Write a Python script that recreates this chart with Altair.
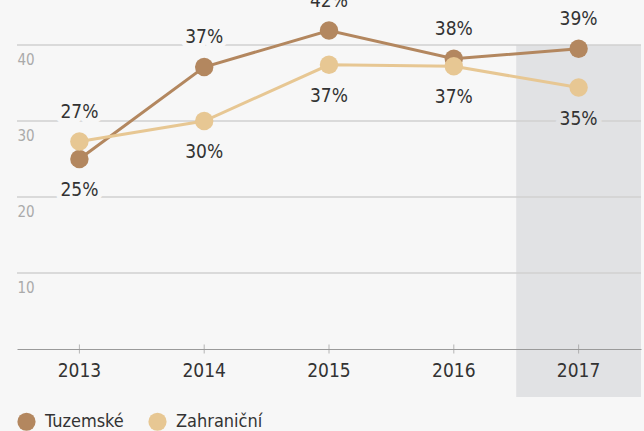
import altair as alt
import pandas as pd

years = [2013, 2014, 2015, 2016, 2017]
tuzemske = [25.0, 37.1, 41.9, 38.2, 39.5]
zahranicni = [27.3, 30.0, 37.4, 37.2, 34.4]
tuzemske_labels = ["25%", "37%", "42%", "38%", "39%"]
zahranicni_labels = ["27%", "30%", "37%", "37%", "35%"]
series_names = ["Tuzemské", "Zahraniční"]
series_colors = ["#b3875f", "#e7c793"]
y_ticks = [10, 20, 30, 40]
highlight_year = 2017

BG = "#f7f7f7"
BAND = "#e1e2e4"
FONT = "'DejaVu Sans Condensed', 'Liberation Sans Narrow', Roboto, sans-serif"

rows = []
for i, yr in enumerate(years):
    t, z = tuzemske[i], zahranicni[i]
    rows.append({"year": yr, "series": series_names[0], "value": t,
                 "label": tuzemske_labels[i], "side": "above" if t >= z else "below"})
    rows.append({"year": yr, "series": series_names[1], "value": z,
                 "label": zahranicni_labels[i], "side": "above" if z > t else "below"})
df = pd.DataFrame(rows)

xenc = alt.X("year:O", scale=alt.Scale(type="band", paddingInner=0, paddingOuter=0),
             axis=alt.Axis(title=None, domain=True, domainColor="#9a9a9a", ticks=False,
                           tickSize=0, labelPadding=12, labelFontSize=19, labelFont=FONT,
                           labelColor="#333333", labelAngle=0, grid=False))
yscale = alt.Scale(domain=[0, 40], nice=False, zero=False)

base = alt.Chart(df)

band = alt.Chart(pd.DataFrame({"year": [highlight_year]})).mark_rect(color=BAND).encode(
    x=xenc, y=alt.datum(40, scale=yscale), y2=alt.datum(-6.3)
)

grid = alt.Chart(pd.DataFrame({"v": y_ticks})).mark_rule(color="#d0d0d0", strokeWidth=1.3).encode(
    y=alt.Y("v:Q", scale=yscale,
            axis=alt.Axis(title=None, values=y_ticks, domain=False, ticks=False, tickSize=0,
                          grid=False, labelAlign="left", labelBaseline="top", labelPadding=0,
                          labelOffset=7, labelFontSize=15, labelFont=FONT, labelColor="#aaaaaa"))
)

ticks = alt.Chart(pd.DataFrame({"year": years})).mark_tick(
    color="#9a9a9a", size=9, thickness=1, orient="vertical").encode(
    x=xenc, y=alt.datum(0, scale=yscale)
)

color = alt.Color("series:N", scale=alt.Scale(domain=series_names, range=series_colors),
                  legend=alt.Legend(title=None, orient="none", legendX=0, legendY=367,
                                    direction="horizontal", symbolType="circle",
                                    symbolSize=330, symbolStrokeWidth=0, labelFontSize=18,
                                    labelFont=FONT, labelColor="#333333", labelOffset=9,
                                    columnPadding=24))

lines = base.mark_line(strokeWidth=3).encode(
    x=xenc, y=alt.Y("value:Q", scale=yscale), color=color, detail="series:N")
points = base.mark_circle(size=340, opacity=1).encode(
    x=xenc, y=alt.Y("value:Q", scale=yscale), color=color)

halo_cond = (alt.datum.year == highlight_year) & (alt.datum.side == "below")


def text_layers(halo):
    out = []
    for side, dy in (("above", -30), ("below", 31)):
        if halo:
            m = base.mark_text(fontSize=19, font=FONT, dy=dy, strokeWidth=10,
                               strokeJoin="round").encode(
                stroke=alt.condition(halo_cond, alt.value(BAND), alt.value(BG)),
                fill=alt.condition(halo_cond, alt.value(BAND), alt.value(BG)))
        else:
            m = base.mark_text(fontSize=19, font=FONT, dy=dy, color="#333333")
        out.append(m.encode(x=xenc, y=alt.Y("value:Q", scale=yscale), text="label:N")
                   .transform_filter(alt.datum.side == side))
    return out


chart = alt.layer(band, grid, ticks, *text_layers(True), lines, points, *text_layers(False)).properties(
    width=624, height=304,
    autosize=alt.AutoSizeParams(type="none"),
    padding={"left": 17, "top": 45, "right": 3, "bottom": 82},
    background=BG,
).configure_view(stroke=None)

chart.save("out.html", embed_options={"renderer": "svg", "actions": False})
